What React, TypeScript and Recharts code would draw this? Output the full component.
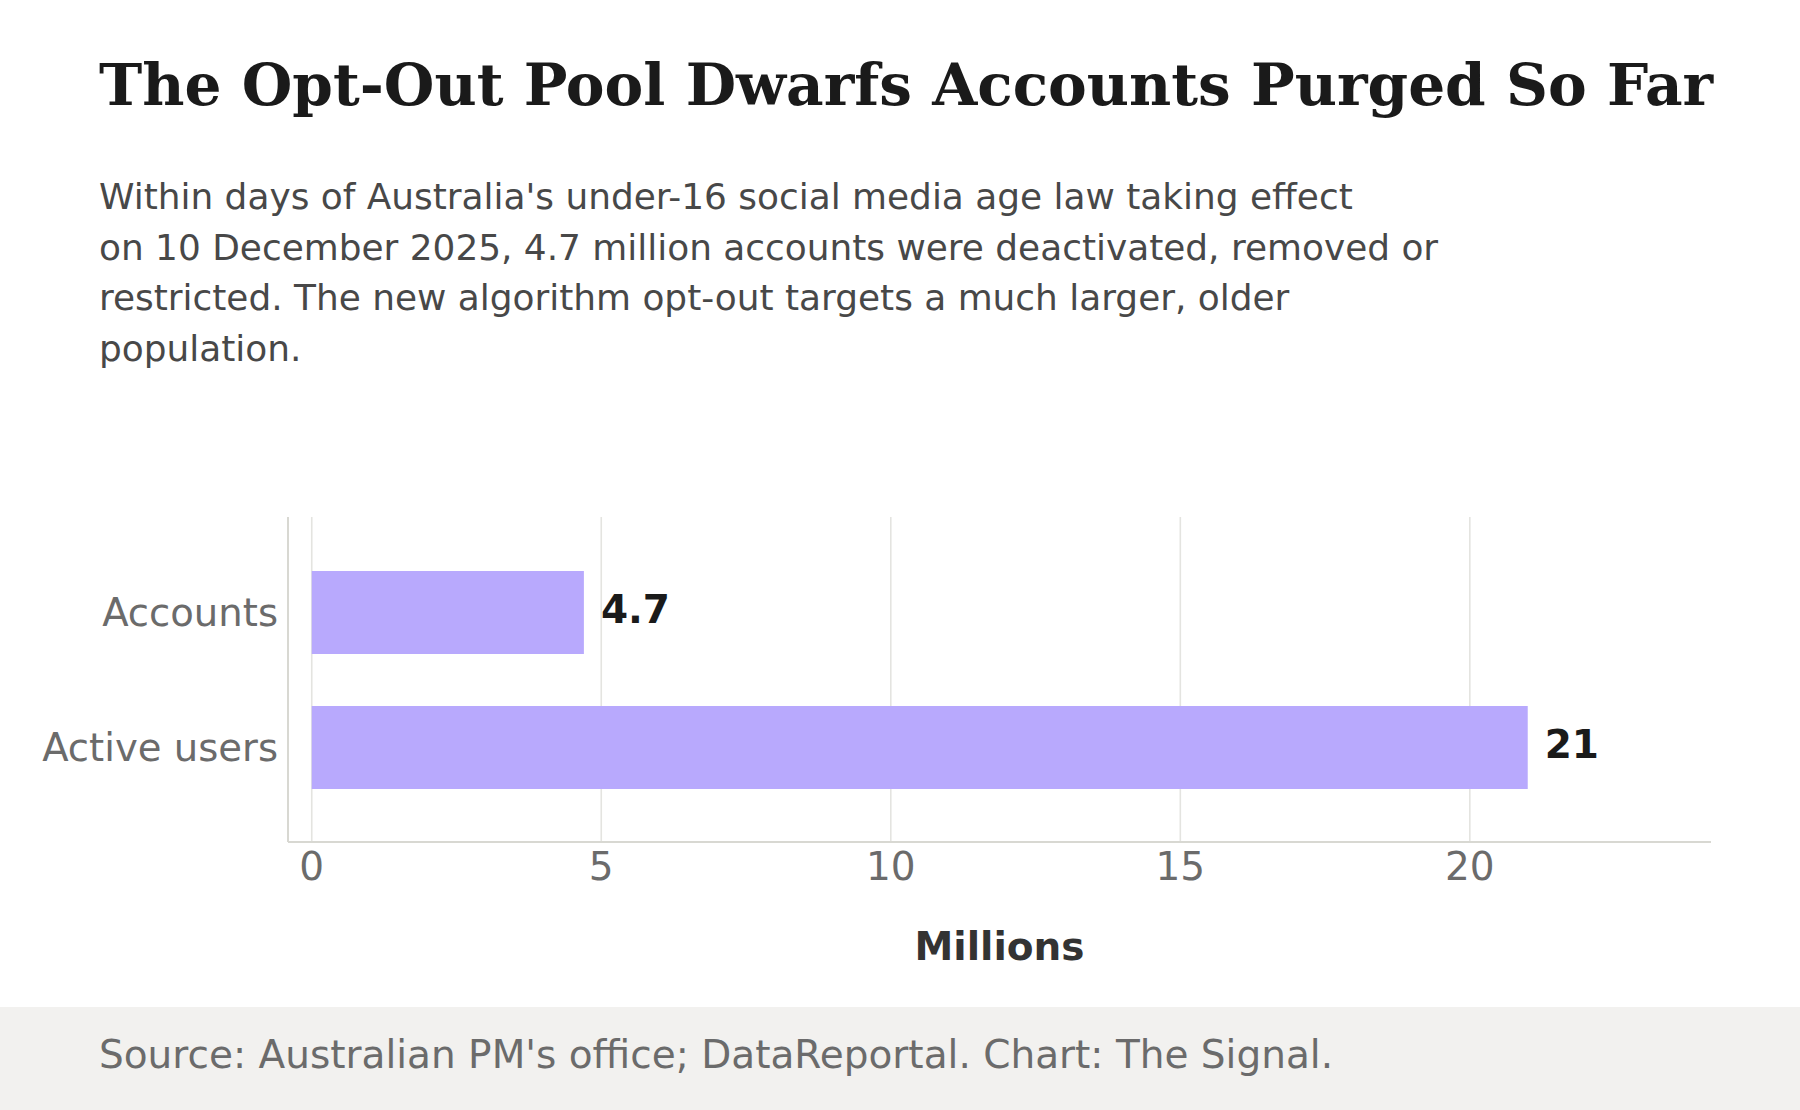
import React from "react";
import { BarChart, Bar, XAxis, YAxis, CartesianGrid, LabelList } from "recharts";

const categories = ["Accounts", "Active users"];
const values = [4.7, 21];
const xTicks = [0, 5, 10, 15, 20];

const data = categories.map((c, i) => ({ name: c, value: values[i] }));

const SANS = "'DejaVu Sans', Verdana, sans-serif";
const SERIF = "'DejaVu Serif', Georgia, serif";

export default function App() {
  return (
    <div
      style={{
        position: "absolute",
        left: 0,
        top: 0,
        width: 1800,
        height: 1110,
        background: "#ffffff",
        overflow: "hidden",
        fontFamily: SANS,
      }}
    >
      <div
        style={{
          position: "absolute",
          left: 99,
          top: 47,
          fontFamily: SERIF,
          fontWeight: 700,
          fontSize: 58.1,
          lineHeight: "76px",
          color: "#1a1a1a",
          whiteSpace: "nowrap",
        }}
      >
        The Opt-Out Pool Dwarfs Accounts Purged So Far
      </div>
      <div
        style={{
          position: "absolute",
          left: 99,
          top: 172,
          width: 1600,
          fontSize: 35.9,
          lineHeight: "50.5px",
          color: "#484848",
          whiteSpace: "nowrap",
        }}
      >
        Within days of Australia's under-16 social media age law taking effect
        <br />
        on 10 December 2025, 4.7 million accounts were deactivated, removed or
        <br />
        restricted. The new algorithm opt-out targets a much larger, older
        <br />
        population.
      </div>
      <div style={{ position: "absolute", left: 0, top: 0 }}>
        <BarChart
          width={1800}
          height={1007}
          data={data}
          layout="vertical"
          margin={{ top: 517, right: 89, bottom: 45, left: 0 }}
          barCategoryGap={0}
        >
          <CartesianGrid
            horizontal={false}
            vertical={true}
            stroke="#e4e4e0"
            strokeWidth={1.6}
            syncWithTicks={true}
          />
          <XAxis
            type="number"
            domain={[-0.41, 24.165]}
            ticks={xTicks}
            allowDataOverflow={true}
            tickLine={false}
            axisLine={{ stroke: "#d8d8d2", strokeWidth: 2 }}
            tick={{ fill: "#6b6b6b", fontSize: 39, fontFamily: SANS }}
            tickMargin={4.5}
            height={120}
            label={{
              value: "Millions",
              position: "insideBottom",
              offset: 2,
              fill: "#333333",
              fontSize: 39,
              fontWeight: 700,
              fontFamily: SANS,
            }}
          />
          <YAxis
            type="category"
            dataKey="name"
            width={288}
            tickLine={false}
            axisLine={{ stroke: "#d8d8d2", strokeWidth: 2 }}
            tick={{ fill: "#6b6b6b", fontSize: 38.6, fontFamily: SANS }}
            tickMargin={4}
            padding={{ top: 28, bottom: 27 }}
          />
          <Bar
            dataKey="value"
            fill="#b8a9fd"
            barSize={83}
            isAnimationActive={false}
          >
            <LabelList
              dataKey="value"
              position="right"
              offset={17}
              fill="#1a1a1a"
              fontSize={39}
              fontWeight={700}
              fontFamily={SANS}
              dy={-3}
            />
          </Bar>
        </BarChart>
      </div>
      <div
        style={{
          position: "absolute",
          left: 0,
          top: 1007,
          width: 1800,
          height: 103,
          background: "#f2f1ef",
        }}
      >
        <div
          style={{
            position: "absolute",
            left: 99,
            top: 24,
            fontSize: 39,
            lineHeight: "48px",
            color: "#6b6b6b",
            whiteSpace: "nowrap",
          }}
        >
          Source: Australian PM's office; DataReportal. Chart: The Signal.
        </div>
      </div>
    </div>
  );
}
